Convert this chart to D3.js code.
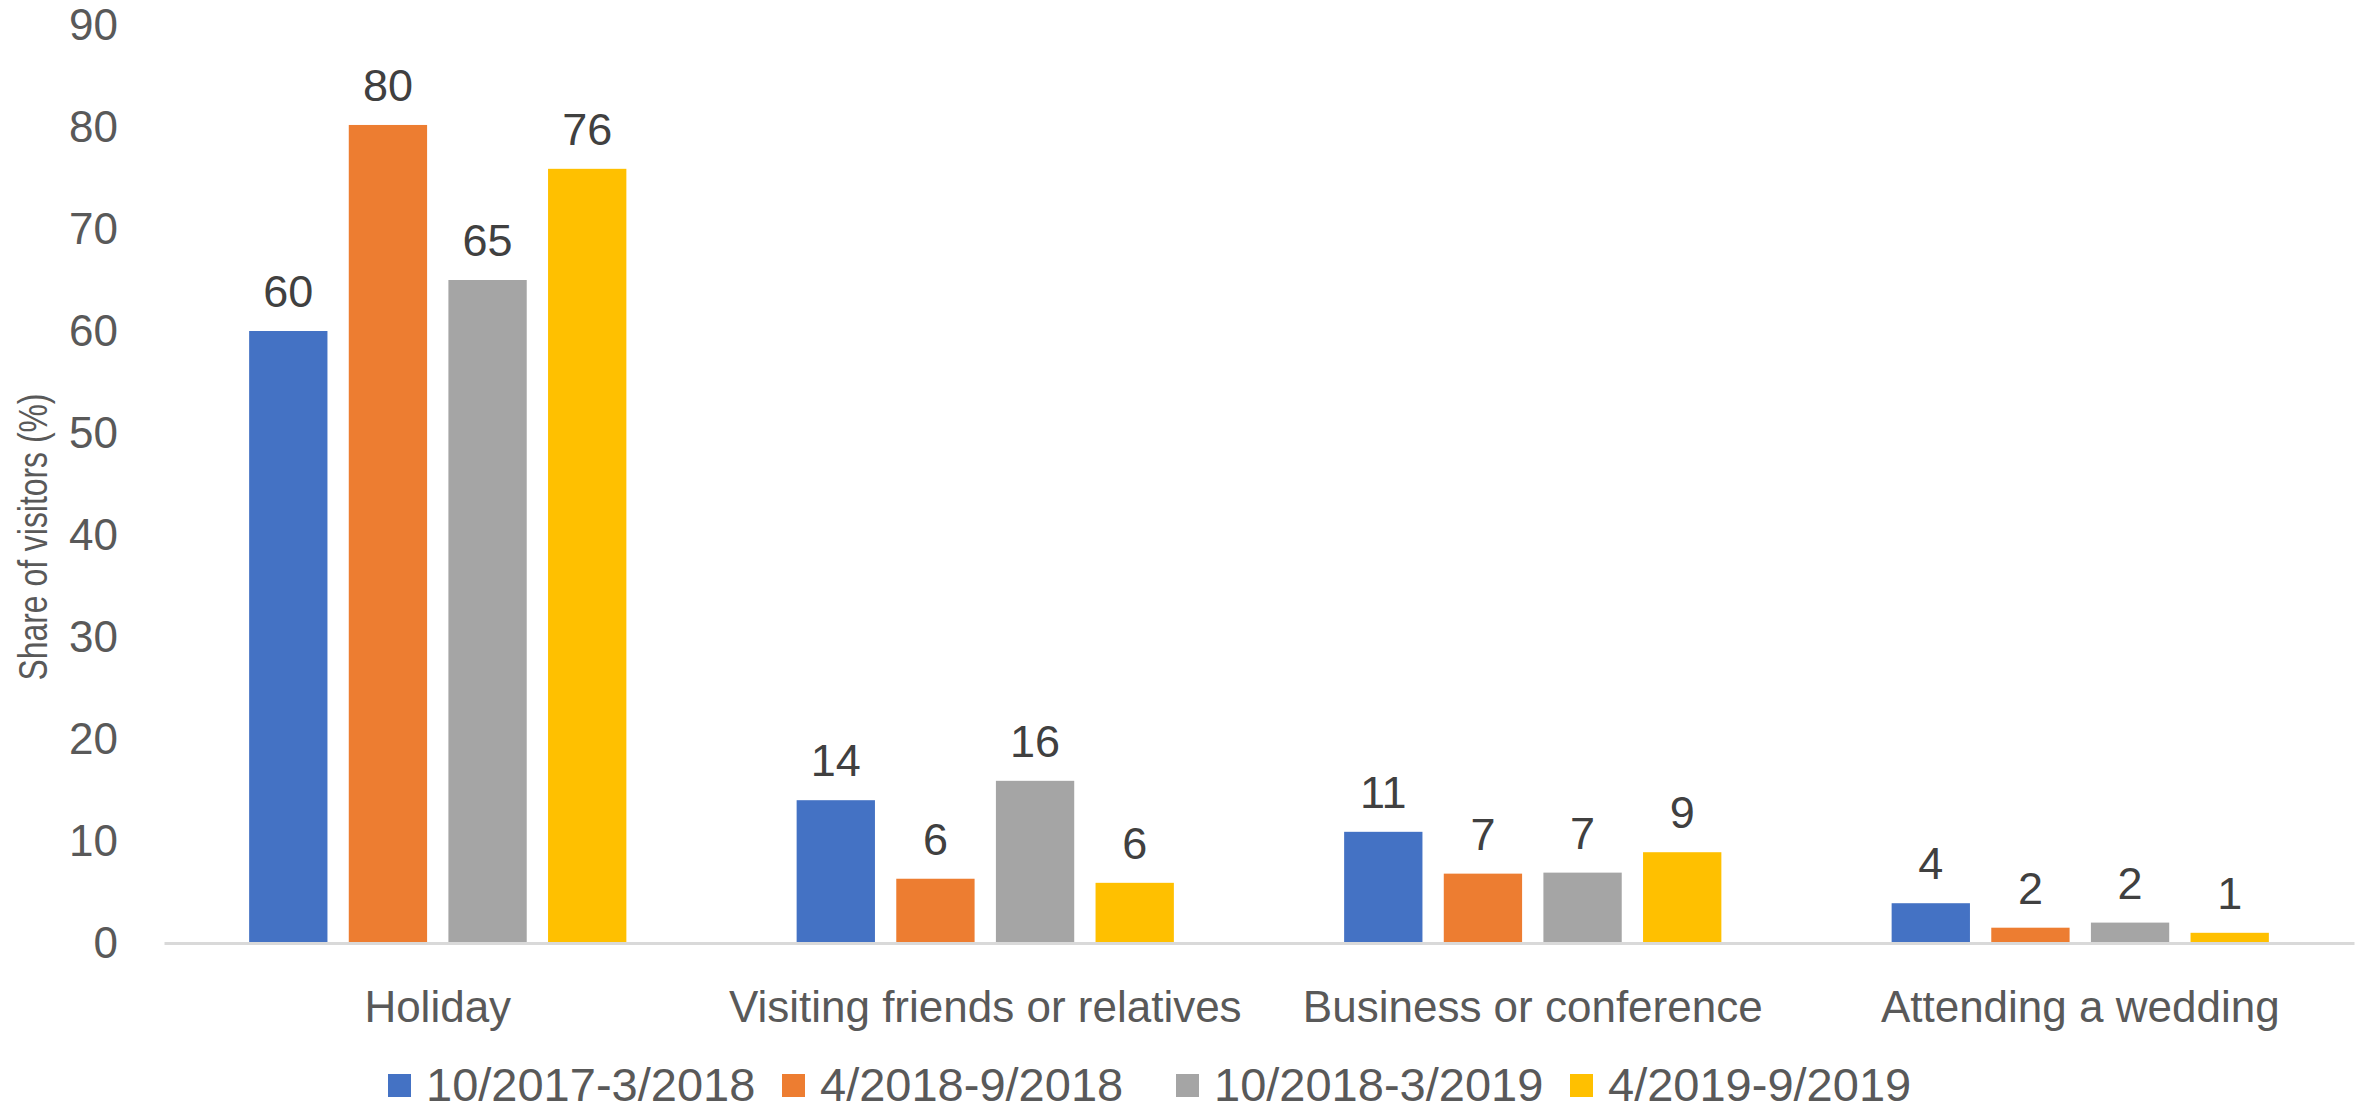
<!DOCTYPE html>
<head>
<meta charset="utf-8">
<style>
  body { margin: 0; background: #fff; }
  text { font-family: "Liberation Sans", Arial, sans-serif; }
</style>
</head>
<body>
  <svg width="2366" height="1110"></svg>

  <script src="https://d3js.org/d3.v7.min.js"></script>
  <script>
  const categories = ['Holiday', 'Visiting friends or relatives', 'Business or conference', 'Attending a wedding'];
  const series = ['10/2017-3/2018', '4/2018-9/2018', '10/2018-3/2019', '4/2019-9/2019'];
  const colors = ['#4472C4', '#ED7D31', '#A5A5A5', '#FFC000'];
  // values per series, in category order
  const values = [
    [60, 14, 10.9, 3.9],
    [80.2, 6.3, 6.8, 1.5],
    [65, 15.9, 6.9, 2],
    [75.9, 5.9, 8.9, 1]
  ];
  const yTicks = [0, 10, 20, 30, 40, 50, 60, 70, 80, 90];

  const svg = d3.select('svg');
  const plotLeft = 164, plotRight = 2354, plotTop = 25, plotBottom = 943;

  const x0 = d3.scaleBand()
    .domain(categories)
    .range([plotLeft, plotRight])
    .paddingInner(0.311)
    .paddingOuter(0.1555);
  const x1 = d3.scaleBand()
    .domain(series)
    .range([0, x0.bandwidth()])
    .paddingInner(0.214);
  const y = d3.scaleLinear().domain([0, 90]).range([plotBottom, plotTop]);

  // y tick labels (no axis line in the original)
  const yAxis = svg.append('g')
    .attr('transform', `translate(${plotLeft},0)`)
    .call(d3.axisLeft(y).tickValues(yTicks).tickSize(0).tickPadding(46));
  yAxis.select('.domain').remove();
  yAxis.selectAll('text')
    .attr('font-size', 44)
    .attr('fill', '#595959')
    .style('font-family', '"Liberation Sans", Arial, sans-serif');

  // bars
  const fmt = d3.format('.0f');
  const rows = [];
  series.forEach((s, i) => {
    categories.forEach((c, j) => rows.push({ s, c, v: values[i][j], color: colors[i] }));
  });

  svg.append('g').selectAll('rect')
    .data(rows)
    .enter()
    .append('rect')
    .attr('x', d => x0(d.c) + x1(d.s))
    .attr('y', d => y(d.v))
    .attr('width', x1.bandwidth())
    .attr('height', d => y(0) - y(d.v))
    .attr('fill', d => d.color);

  svg.append('g').selectAll('text')
    .data(rows)
    .enter()
    .append('text')
    .attr('x', d => x0(d.c) + x1(d.s) + x1.bandwidth() / 2)
    .attr('y', d => y(d.v) - 24)
    .attr('text-anchor', 'middle')
    .attr('font-size', 45)
    .attr('fill', '#404040')
    .text(d => fmt(d.v));

  // x axis line + category labels
  const xAxis = svg.append('g')
    .attr('transform', `translate(0,${plotBottom})`)
    .call(d3.axisBottom(x0).tickSize(0).tickPadding(48));
  xAxis.select('.domain')
    .attr('stroke', '#D9D9D9')
    .attr('stroke-width', 3);
  xAxis.selectAll('text')
    .attr('font-size', 44)
    .attr('fill', '#595959')
    .style('font-family', '"Liberation Sans", Arial, sans-serif');

  // y title
  svg.append('text')
    .attr('transform', 'translate(47,537) rotate(-90)')
    .attr('text-anchor', 'middle')
    .attr('font-size', 40)
    .attr('textLength', 287)
    .attr('lengthAdjust', 'spacingAndGlyphs')
    .attr('fill', '#595959')
    .text('Share of visitors (%)');

  // legend
  const legend = svg.append('g').selectAll('g')
    .data(series)
    .enter()
    .append('g')
    .attr('transform', (d, i) => `translate(${388 + i * 394},1074)`);
  legend.append('rect')
    .attr('width', 23)
    .attr('height', 23)
    .attr('fill', (d, i) => colors[i]);
  legend.append('text')
    .attr('x', 38)
    .attr('y', 27)
    .attr('font-size', 47)
    .attr('fill', '#595959')
    .text(d => d);
  </script>
</body>
</html>
